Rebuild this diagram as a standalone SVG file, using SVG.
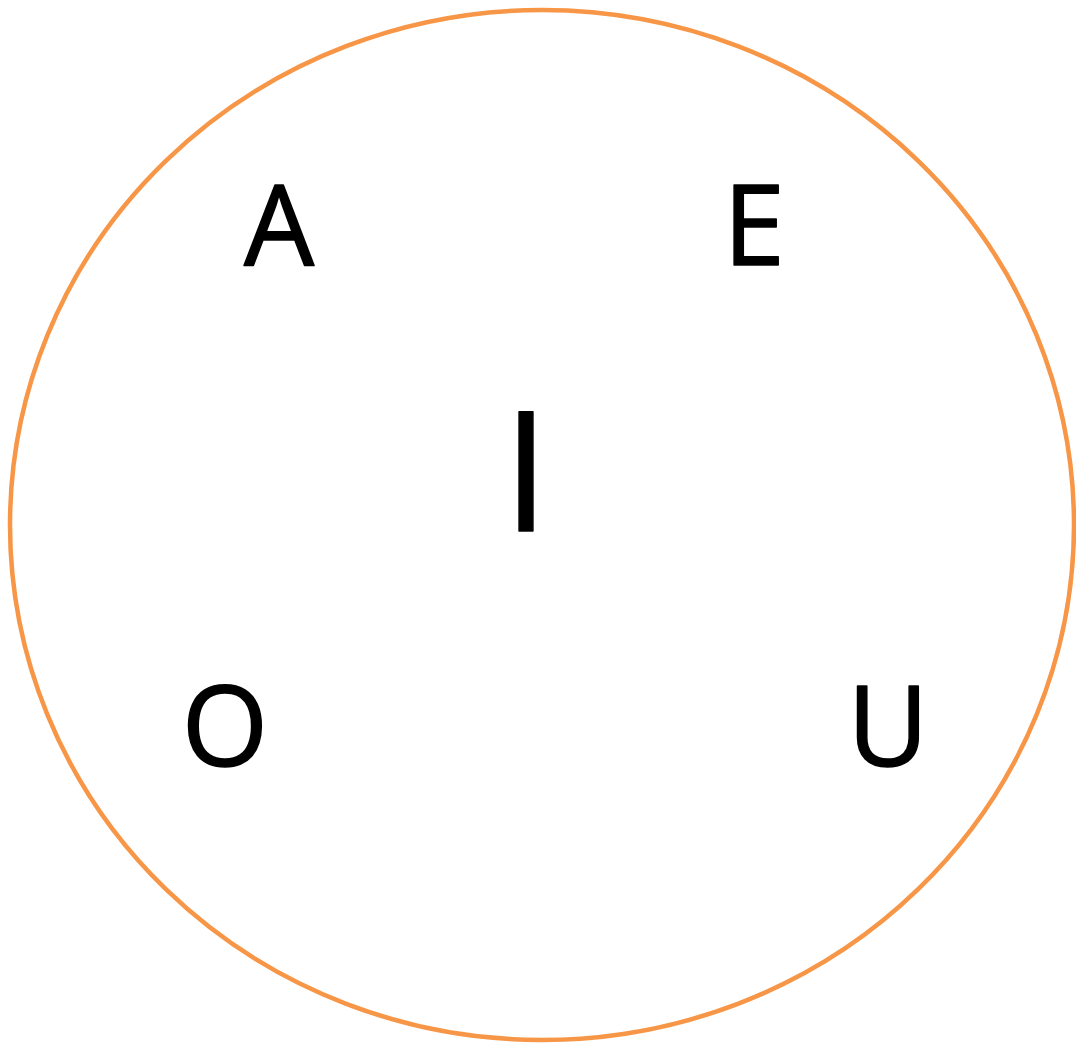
<svg xmlns="http://www.w3.org/2000/svg" width="1076" height="1043" viewBox="0 0 1076 1043">
<style>
.t{font-family:"Open Sans","Noto Sans",sans-serif;fill:#000;stroke:#000;stroke-width:1.5;stroke-linejoin:round;text-anchor:middle}
.s{font-size:111px}
.b{font-size:167px}
</style>
<rect width="1076" height="1043" fill="#fff"/>
<g id="circle"><ellipse cx="542" cy="525" rx="532" ry="515" fill="none" stroke="#F79646" stroke-width="4.5"/></g>
<g id="node-A"><text class="t s" x="279" y="265">A</text></g>
<g id="node-E"><text class="t s" x="754" y="265">E</text></g>
<g id="node-I"><text class="t b" x="526" y="531">I</text></g>
<g id="node-O"><text class="t s" x="225" y="766">O</text></g>
<g id="node-U"><text class="t s" x="888" y="766">U</text></g>
<g id="connectors"></g>
</svg>
